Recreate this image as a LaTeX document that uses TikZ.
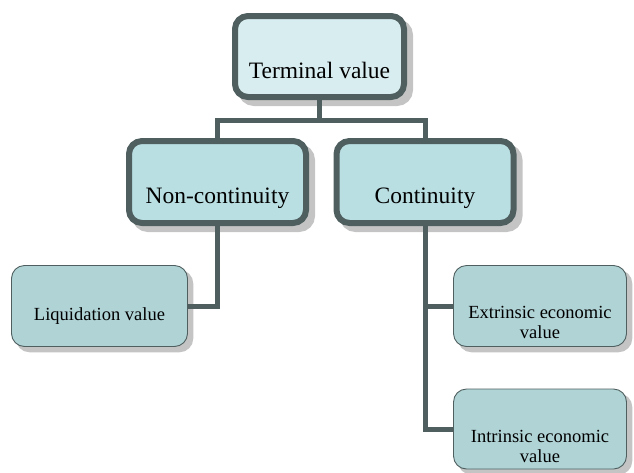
\documentclass[tikz,border=0pt]{standalone}
\usepackage{fontspec}
\setmainfont{Liberation Serif}
\usetikzlibrary{shadows}
\definecolor{edgec}{RGB}{79,95,95}
\definecolor{topfill}{RGB}{216,237,240}
\definecolor{midfill}{RGB}{185,223,227}
\definecolor{lowfill}{RGB}{176,211,214}
\definecolor{shadc}{RGB}{196,196,196}
\tikzset{
  bigbox/.style={draw=edgec, line width=6pt, rounded corners=13pt, inner sep=0pt,
    copy shadow={shadow xshift=6pt, shadow yshift=-6pt, draw=shadc, fill=shadc}},
  smallbox/.style={draw=edgec, line width=0.9pt, fill=lowfill, rounded corners=13pt, inner sep=0pt,
    copy shadow={shadow xshift=5pt, shadow yshift=-5pt, draw=shadc, fill=shadc, line width=1.5pt}},
  bigtext/.style={inner sep=0pt, anchor=base, font=\fontsize{23.5}{28}\selectfont},
  smalltext/.style={inner sep=0pt, anchor=base, align=center, font=\fontsize{18.5}{20.5}\selectfont},
  link/.style={draw=edgec, line width=5pt}
}
\begin{document}
\begin{tikzpicture}[x=1pt,y=-1pt]
\useasboundingbox (0,0) rectangle (634,472);
% boxes
\node[bigbox, fill=topfill, minimum width=169pt, minimum height=81pt] (T) at (319.5,56.5) {};
\node[bigbox, fill=midfill, minimum width=177pt, minimum height=82pt] (N) at (217.5,182) {};
\node[bigbox, fill=midfill, minimum width=177pt, minimum height=82pt] (C) at (425,182) {};
\node[smallbox, minimum width=176pt, minimum height=81pt] (L) at (99.5,306) {};
\node[smallbox, minimum width=173pt, minimum height=81pt] (E) at (540,306) {};
\node[smallbox, minimum width=173pt, minimum height=80pt] (I) at (540,429) {};
% connectors
\coordinate (bar) at (0,120);
\draw[link] (T.south) -- (T.south |- bar);
\draw[link] (N.north) |- (T.south |- bar) -| (C.north);
\draw[link] (N.south) |- (L.east);
\draw[link] (C.south) |- (E.west);
\draw[link] (C.south) |- (I.west);
% texts
\node[bigtext] (Tt) at (319.5,78) {Terminal value};
\node[bigtext] (Nt) at (217.5,203) {Non-continuity};
\node[bigtext] (Ct) at (425,203) {Continuity};
\node[smalltext] (Lt) at (99.5,320) {Liquidation value};
\node[smalltext] (Et) at (540,338.5) {Extrinsic economic\\value};
\node[smalltext] (It) at (540,462.5) {Intrinsic economic\\value};
\end{tikzpicture}
\end{document}
